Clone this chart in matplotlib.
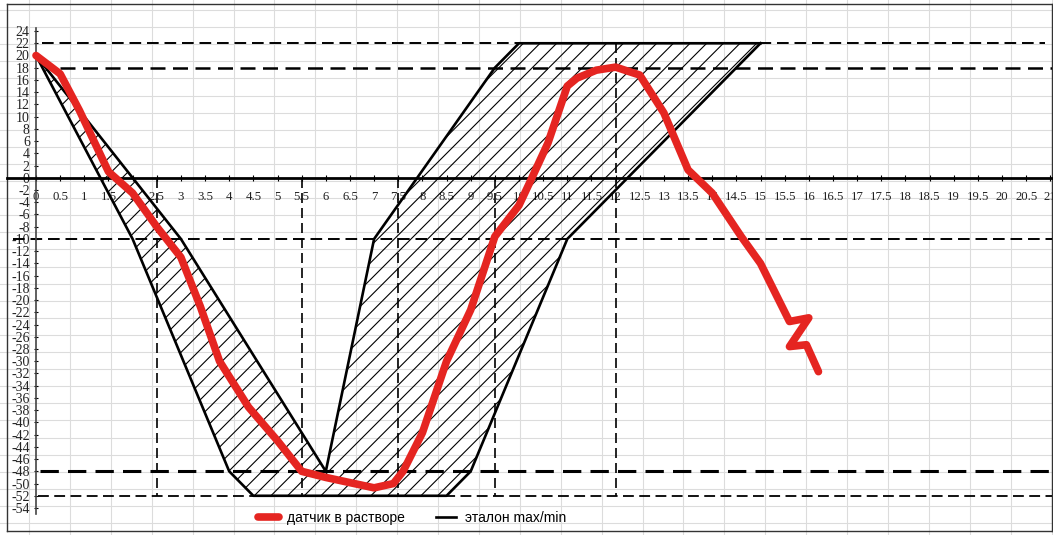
import numpy as np
import matplotlib.pyplot as plt

plt.rcParams['hatch.linewidth'] = 0.8

# эталон: upper and lower edges of the corridor
max_x = [0, 3, 6, 7, 9.5, 10, 15]
max_y = [20, -10, -48, -10, 18, 22, 22]
min_x = [0, 2, 4, 4.5, 8.5, 9, 11, 15]
min_y = [20, -10, -48, -52, -52, -48, -10, 22]

# датчик в растворе (break mark drawn at the end of the record)
sens_x = [0, 0.5, 0.9, 1.5, 2.0, 2.5, 3.0, 3.4, 3.8, 4.4, 5.0, 5.5, 6.0, 7.0, 7.4,
          7.6, 8.0, 8.5, 9.0, 9.5, 10.0, 10.25, 10.6, 11.0, 11.2, 11.6, 12.0, 12.5,
          13.0, 13.5, 14.0, 14.6, 15.0, 15.6, 16.0, 15.6, 15.95, 16.2]
sens_y = [20, 17, 11, 1, -2.5, -8, -13, -21, -30, -37.5, -43, -48, -49, -50.7, -50,
          -48, -41.7, -30, -21.6, -9.6, -4.5, -0.3, 5.7, 15, 16.3, 17.6, 18.1, 16.8,
          10.6, 1.3, -2.5, -9.6, -14, -23.5, -22.9, -27.6, -27.3, -31.7]

# dashed guide lines
h_y = [22, 18, -10, -48, -52]
h_x0 = [0.12, 0.5, -0.48, 0.08, 0.05]
h_x1 = [20.9, 21.1, 21.1, 21.1, 21.1]
h_lw = [1.4, 1.8, 1.4, 2.2, 1.3]
v_x = [2.5, 5.5, 7.5, 9.5, 12]
v_top = [0, 0, 0, 0, 22]
v_bottom = -52

x_ticks = np.arange(0, 21.5, 0.5)
y_ticks = np.arange(-54, 26, 2)

W, H = 1053, 535
fig = plt.figure(figsize=(W / 100, H / 100), dpi=100)

# spreadsheet cell grid behind the chart
bg = fig.add_axes([0, 0, 1, 1], zorder=0)
bg.set_xlim(0, W)
bg.set_ylim(H, 0)
bg.set_xticks(np.arange(29, W, 40.9))
bg.set_yticks(np.arange(10, H, 17.1))
bg.grid(True, color='#dcdcdc', lw=0.8)
bg.tick_params(length=0, labelbottom=False, labelleft=False)
for s in bg.spines.values():
    s.set_visible(False)

# chart area frame
fr = fig.add_axes([7 / W, 4 / H, (1052 - 7) / W, (531 - 4) / H], zorder=0.5)
fr.patch.set_visible(False)
fr.set_xticks([])
fr.set_yticks([])
for s in fr.spines.values():
    s.set_linewidth(1.0)
    s.set_color('#333333')

px_x, px_y = 48.3, 6.115
x0_px, y0_px = 36, 177.8
ax = fig.add_axes([7 / W, 4 / H, (1052 - 7) / W, (531 - 4) / H], zorder=1)
ax.patch.set_visible(False)
ax.set_xlim((7 - x0_px) / px_x, (1052 - x0_px) / px_x)
ax.set_ylim((y0_px - 531) / px_y, (y0_px - 4) / px_y)

# hatched corridor
ax.fill(np.concatenate([max_x, min_x[::-1]]), np.concatenate([max_y, min_y[::-1]]),
        facecolor='none', edgecolor='black', hatch='//', lw=0, zorder=2)
ax.plot(max_x, max_y, color='black', lw=1.9, zorder=3, label='эталон max/min')
ax.plot(min_x, min_y, color='black', lw=1.9, zorder=3)

dash = (0, (6, 3))
for y, a, b, w in zip(h_y, h_x0, h_x1, h_lw):
    ax.plot([a, b], [y, y], color='black', lw=w, ls=dash, zorder=2.5)
for x, t in zip(v_x, v_top):
    ax.plot([x, x], [t, v_bottom], color='black', lw=1.2, ls=dash, zorder=2.5)

ax.plot(sens_x, sens_y, color='#e52521', lw=5.5, solid_joinstyle='round',
        solid_capstyle='round', zorder=4, label='датчик в растворе')

ax.spines['left'].set_position(('data', 0))
ax.spines['bottom'].set_position(('data', 0))
ax.spines['top'].set_visible(False)
ax.spines['right'].set_visible(False)
ax.spines['left'].set_bounds(-55, 24.5)
ax.spines['left'].set_linewidth(1.2)
ax.spines['left'].set_color('#444444')
ax.spines['bottom'].set_linewidth(2.0)

ax.set_xticks(x_ticks)
ax.set_xticklabels(['{:g}'.format(v) for v in x_ticks])
ax.set_yticks(y_ticks)
ax.set_yticklabels(['{:g}'.format(v) for v in y_ticks])
for lab in ax.get_xticklabels():
    lab.set_family(['Liberation Serif', 'DejaVu Serif'])
    lab.set_fontsize(9.2)
    lab.set_color('#222222')
for lab in ax.get_yticklabels():
    lab.set_family(['Liberation Serif', 'DejaVu Serif'])
    lab.set_fontsize(10)
    lab.set_color('#222222')
ax.tick_params(axis='x', direction='inout', length=5, width=0.8, pad=7)
ax.tick_params(axis='y', direction='inout', length=3, width=0.8, pad=3)

handles, labels = ax.get_legend_handles_labels()
order = [1, 0]
leg = fig.legend([handles[i] for i in order], [labels[i] for i in order],
                 loc='center', bbox_to_anchor=(412 / W, 1 - 518 / H), ncol=2,
                 frameon=False, handlelength=1.5, handletextpad=0.6,
                 columnspacing=2.2, prop={'family': 'Liberation Sans', 'size': 10})

fig.savefig('out.png', dpi=100)
